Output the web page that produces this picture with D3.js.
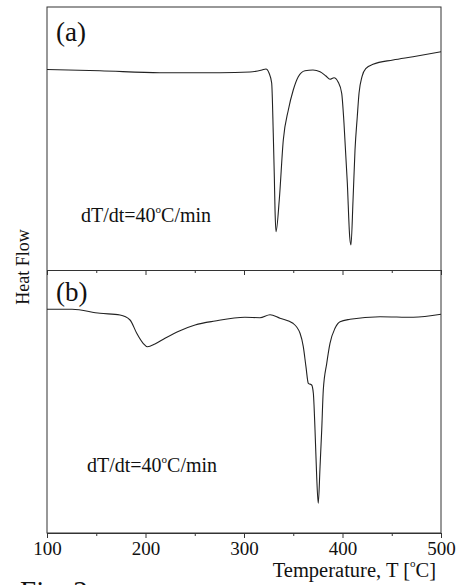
<!DOCTYPE html>
<html>
<head>
<meta charset="utf-8">
<script src="https://cdn.jsdelivr.net/npm/d3@7"></script>
<style>
  body { margin: 0; background: #fff; overflow: hidden; }
  text { font-family: "Liberation Serif", "Times New Roman", serif; fill: #111; }
</style>
</head>
<body>
<div id="chart"></div>
<script>
// Tamaño del lienzo
const width = 458;
const height = 585;
const plot = { left: 47, right: 441, top: 7, mid: 270, bottom: 533 };

// Datos (T en °C, flujo de calor en unidades arbitrarias)
const tempA = [100, 153.8, 214.7, 275.6, 306.1, 318.3, 322.3, 325.4, 328.1, 329.7, 330.8, 331.5, 332.5,
  335.8, 339.9, 345, 350, 355.1, 361.9, 370, 377.2, 383.2, 387.3, 391.4, 395.4, 399.2, 401.5, 404.9,
  407.3, 408.6, 410.7, 412.7, 415, 416.8, 419.8, 423.9, 431, 451.3, 471.6, 500];
const flowA = [200.5, 199.3, 197.3, 197.3, 198, 200, 201, 197, 187, 137, 93, 60, 38.3,
  70, 130, 160, 180, 193.3, 199.3, 200, 198.3, 194, 190.7, 192.3, 188.3, 176.7, 147, 87,
  33.3, 25, 70, 120, 153.3, 177, 193.3, 201.7, 205.7, 210, 213.3, 218.3];

const tempB = [100, 125.4, 153.8, 174.1, 184.3, 191.1, 197.6, 202, 209.6, 219.8, 235, 250.3, 270.6,
  301, 316.2, 326.4, 336.5, 349.7, 356.9, 360.2, 362.9, 365.3, 368.7, 370.4, 372.1, 373.8, 375.4,
  377.2, 378.9, 380.5, 384, 387.3, 392.4, 397.5, 407.6, 438.1, 471.9, 500];
const flowB = [223.7, 223.7, 219.7, 218, 213, 199.7, 189.7, 186.3, 189, 194.7, 202.3, 208, 212,
  215.7, 215.3, 218.3, 214.7, 209.7, 199.7, 186.3, 166.3, 149.7, 148, 139.7, 103, 56.3, 29.7,
  66.3, 103, 143, 169.7, 189.7, 204.7, 211.3, 213.7, 216.3, 215.7, 218.7];

const xTicks = [100, 150, 200, 250, 300, 350, 400, 450, 500];
const panelLabels = ["(a)", "(b)"];
const rateLabel = "dT/dt=40";

const svg = d3.select("#chart").append("svg")
    .attr("width", width)
    .attr("height", height)
    .attr("viewBox", [0, 0, width, height]);

const xScale = d3.scaleLinear([100, 500], [plot.left, plot.right]);
const yA = d3.scaleLinear([0, 263], [plot.mid, plot.top]);
const yB = d3.scaleLinear([0, 263], [plot.bottom, plot.mid]);

// Marco
svg.append("rect")
    .attr("x", plot.left)
    .attr("y", plot.top)
    .attr("width", plot.right - plot.left)
    .attr("height", plot.bottom - plot.top)
    .attr("fill", "none")
    .attr("stroke", "#333")
    .attr("stroke-width", 1);

// Ejes (divisor central y eje inferior)
function drawAxis(yPos, labels) {
    const axis = d3.axisBottom(xScale)
        .tickValues(xTicks)
        .tickSizeOuter(0)
        .tickPadding(3)
        .tickFormat(d => labels && d % 100 === 0 ? d : "");
    const g = svg.append("g")
        .attr("transform", `translate(0,${yPos})`)
        .call(axis);
    g.select(".domain").attr("stroke", "#333");
    g.selectAll(".tick line")
        .attr("stroke", "#333")
        .attr("y2", d => d % 100 === 0 ? 5 : 3);
    g.selectAll(".tick text")
        .attr("font-size", 19)
        .attr("font-family", "Liberation Serif, serif")
        .attr("fill", "#111");
    return g;
}
drawAxis(plot.mid, false);
drawAxis(plot.bottom, true);

// Curvas
const lineA = d3.line()
    .x((d, i) => xScale(tempA[i]))
    .y(d => yA(d))
    .curve(d3.curveMonotoneX);
const lineB = d3.line()
    .x((d, i) => xScale(tempB[i]))
    .y(d => yB(d))
    .curve(d3.curveMonotoneX);

svg.append("path")
    .attr("fill", "none")
    .attr("stroke", "#222")
    .attr("stroke-width", 1.1)
    .attr("d", lineA(flowA));

svg.append("path")
    .attr("fill", "none")
    .attr("stroke", "#222")
    .attr("stroke-width", 1.1)
    .attr("d", lineB(flowB));

// Etiquetas de panel
svg.append("text").attr("x", 56).attr("y", 41).attr("font-size", 27).text(panelLabels[0]);
svg.append("text").attr("x", 56).attr("y", 301).attr("font-size", 27).text(panelLabels[1]);

function rateText(x, y) {
    const t = svg.append("text").attr("x", x).attr("y", y).attr("font-size", 20);
    t.append("tspan").text(rateLabel);
    t.append("tspan").attr("font-size", 11).attr("dy", -9).text("o");
    t.append("tspan").attr("dy", 9).text("C/min");
}
rateText(81, 222);
rateText(87, 472);

// Títulos de ejes
const xt = svg.append("text")
    .attr("x", 436)
    .attr("y", 577)
    .attr("text-anchor", "end")
    .attr("font-size", 20.5);
xt.append("tspan").text("Temperature, T [");
xt.append("tspan").attr("font-size", 11).attr("dy", -10).text("o");
xt.append("tspan").attr("dy", 10).text("C]");

svg.append("text")
    .attr("transform", "translate(29,267) rotate(-90)")
    .attr("text-anchor", "middle")
    .attr("font-size", 18)
    .text("Heat Flow");

svg.append("text")
    .attr("x", 20)
    .attr("y", 601)
    .attr("font-size", 29)
    .text("Fig. 2");
</script>
</body>
</html>
